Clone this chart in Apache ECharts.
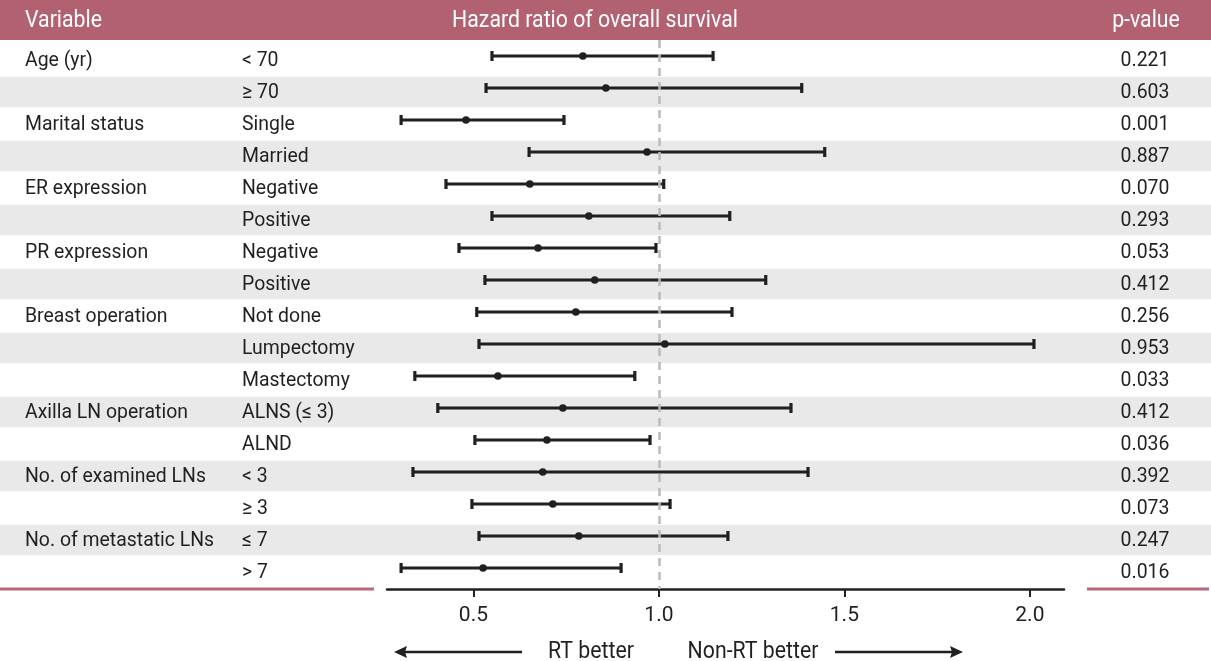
<!DOCTYPE html>
<html>
<head>
<meta charset="utf-8">
<script src="https://cdn.jsdelivr.net/npm/echarts@6/dist/echarts.min.js"></script>
<style>
html,body{margin:0;padding:0;background:#fff;}
#chart{width:1211px;height:661px;}
</style>
</head>
<body>
<div id="chart"></div>
<script>
const variables = ['Age (yr)', '', 'Marital status', '', 'ER expression', '', 'PR expression', '', 'Breast operation', '', '', 'Axilla LN operation', '', 'No. of examined LNs', '', 'No. of metastatic LNs', ''];
const subgroups = ['< 70', '≥ 70', 'Single', 'Married', 'Negative', 'Positive', 'Negative', 'Positive', 'Not done', 'Lumpectomy', 'Mastectomy', 'ALNS (≤ 3)', 'ALND', '< 3', '≥ 3', '≤ 7', '> 7'];
const hazardRatio = [0.795, 0.857, 0.480, 0.968, 0.652, 0.811, 0.674, 0.827, 0.776, 1.016, 0.566, 0.741, 0.698, 0.687, 0.714, 0.784, 0.526];
const lowerCI    = [0.550, 0.534, 0.305, 0.650, 0.426, 0.550, 0.461, 0.531, 0.509, 0.515, 0.342, 0.404, 0.504, 0.337, 0.496, 0.515, 0.305];
const upperCI    = [1.146, 1.385, 0.744, 1.447, 1.013, 1.191, 0.992, 1.288, 1.197, 2.011, 0.935, 1.356, 0.976, 1.402, 1.030, 1.186, 0.898];
const pValues = ['0.221', '0.603', '0.001', '0.887', '0.070', '0.293', '0.053', '0.412', '0.256', '0.953', '0.033', '0.412', '0.036', '0.392', '0.073', '0.247', '0.016'];
const xTicks = [0.5, 1.0, 1.5, 2.0];
const headers = ['Variable', 'Hazard ratio of overall survival', 'p-value'];
const directionLabels = ['RT better', 'Non-RT better'];

const FONT = 'Roboto, "Noto Sans", sans-serif';
const TEXT = '#231f20';
const MAUVE = '#b26171';
const SX = 0.925;

const chart = echarts.init(document.getElementById('chart'), null, {renderer: 'canvas'});

const rowIdx = subgroups.map((_, i) => i);
const errData = rowIdx.map(i => [lowerCI[i], i, upperCI[i], hazardRatio[i]]);
const bandData = rowIdx.filter(i => i % 2 === 1).map(i => [1, i]);
const textData = rowIdx.map(i => [1, i]);

function txt(x, y, text, align, fill, size) {
  return {type: 'text', x: x, y: y, scaleX: SX, z: 11,
    style: {text: text, fontSize: size || 21, fontFamily: FONT, fill: fill || TEXT, align: align, verticalAlign: 'middle'}};
}

const option = {
  animation: false,
  backgroundColor: '#fff',
  grid: {left: 387, right: 147, top: 40, bottom: 72, containLabel: false},
  xAxis: {
    type: 'value', min: 0.267, max: 2.092, position: 'bottom',
    splitLine: {show: false},
    axisLine: {show: true, onZero: false, lineStyle: {color: TEXT, width: 2.5}},
    axisTick: {show: true, length: 8, lineStyle: {color: TEXT, width: 2}, customValues: xTicks},
    axisLabel: {show: true, margin: 16, fontSize: 21, fontFamily: FONT, color: TEXT,
      customValues: xTicks, formatter: v => Number(v).toFixed(1)}
  },
  yAxis: {
    type: 'value', inverse: true, min: -0.5, max: 16.656,
    show: false, splitLine: {show: false}
  },
  series: [
    {
      type: 'custom', name: 'bands', silent: true, clip: false, z: 0,
      data: bandData,
      renderItem: function (params, api) {
        const y = api.coord([api.value(0), api.value(1)])[1];
        return {type: 'rect', shape: {x: 0, y: y - 11, width: api.getWidth(), height: 30},
          style: {fill: '#e8e9e8'}};
      }
    },
    {
      type: 'line', name: 'ref', data: [], silent: true, z: 1,
      markLine: {
        symbol: 'none', silent: true, label: {show: false},
        lineStyle: {color: '#b9b9c1', width: 2.5, type: [8, 6]},
        data: [{xAxis: 1.0}]
      }
    },
    {
      type: 'custom', name: 'hr', silent: true, clip: false, z: 3,
      data: errData,
      renderItem: function (params, api) {
        const row = api.value(1);
        const p1 = api.coord([api.value(0), row]);
        const p2 = api.coord([api.value(2), row]);
        const pc = api.coord([api.value(3), row]);
        const st = {stroke: TEXT, lineWidth: 3.2};
        return {type: 'group', children: [
          {type: 'line', shape: {x1: p1[0], y1: p1[1], x2: p2[0], y2: p2[1]}, style: st},
          {type: 'line', shape: {x1: p1[0], y1: p1[1] - 5, x2: p1[0], y2: p1[1] + 5}, style: st},
          {type: 'line', shape: {x1: p2[0], y1: p2[1] - 5, x2: p2[0], y2: p2[1] + 5}, style: st},
          {type: 'circle', shape: {cx: pc[0], cy: pc[1], r: 3.8}, style: {fill: TEXT}}
        ]};
      }
    },
    {
      type: 'custom', name: 'texts', silent: true, clip: false, z: 4,
      data: textData,
      renderItem: function (params, api) {
        const i = api.value(1);
        const y = api.coord([api.value(0), i])[1] + 5;
        return {type: 'group', children: [
          txt(25, y, variables[i], 'left'),
          txt(242, y, subgroups[i], 'left'),
          txt(1145, y, pValues[i], 'center')
        ]};
      }
    }
  ],
  graphic: [
    {type: 'rect', shape: {x: 0, y: 0, width: 1211, height: 40}, style: {fill: MAUVE}, z: 10},
    txt(25, 21, headers[0], 'left', '#fff', 23),
    txt(595, 21, headers[1], 'center', '#fff', 23),
    txt(1146, 21, headers[2], 'center', '#fff', 23),
    {type: 'line', shape: {x1: 0, y1: 589, x2: 374, y2: 589}, style: {stroke: '#b9687b', lineWidth: 3}, z: 10},
    {type: 'line', shape: {x1: 1087, y1: 589, x2: 1209, y2: 589}, style: {stroke: '#b9687b', lineWidth: 3}, z: 10},
    {type: 'line', shape: {x1: 404, y1: 652, x2: 522, y2: 652}, style: {stroke: TEXT, lineWidth: 2.5}, z: 10},
    {type: 'polygon', shape: {points: [[394, 652], [407, 646], [405, 652], [407, 658]]}, style: {fill: TEXT}, z: 10},
    {type: 'line', shape: {x1: 835, y1: 652, x2: 953, y2: 652}, style: {stroke: TEXT, lineWidth: 2.5}, z: 10},
    {type: 'polygon', shape: {points: [[963, 652], [950, 646], [952, 652], [950, 658]]}, style: {fill: TEXT}, z: 10},
    txt(591, 652, directionLabels[0], 'center', TEXT, 23),
    txt(753, 652, directionLabels[1], 'center', TEXT, 23)
  ]
};
chart.setOption(option);
</script>
</body>
</html>
